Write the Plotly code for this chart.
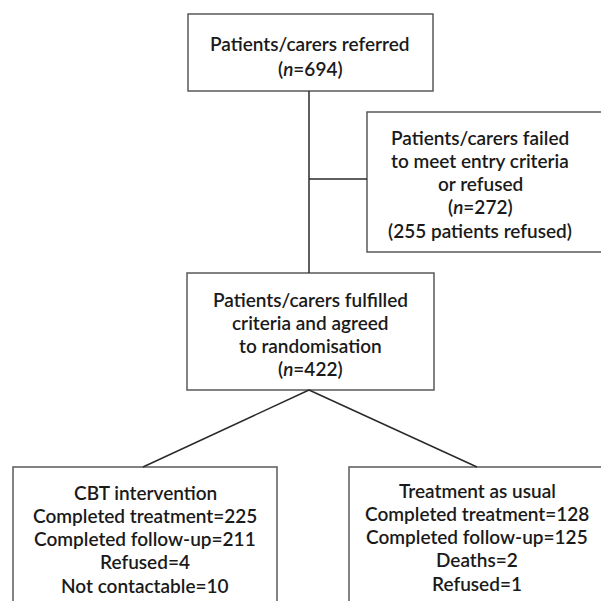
import plotly.graph_objects as go

# Flowchart content
referred_lines = ["Patients/carers referred", "(<i>n</i>=694)"]
excluded_lines = ["Patients/carers failed", "to meet entry criteria", "or refused",
                  "(<i>n</i>=272)", "(255 patients refused)"]
randomised_lines = ["Patients/carers fulfilled", "criteria and agreed",
                    "to randomisation", "(<i>n</i>=422)"]
cbt_lines = ["CBT intervention", "Completed treatment=225", "Completed follow-up=211",
             "Refused=4", "Not contactable=10"]
tau_lines = ["Treatment as usual", "Completed treatment=128", "Completed follow-up=125",
             "Deaths=2", "Refused=1"]

W = H = 601
FONT = "Lato, 'Open Sans', sans-serif"
TXT = "#1a1a1a"
BOX = "#5a5a5a"
LINE = "#2a2a2a"

# box geometry: (x0, y0, x1, y1, lines, text centre x, first line y, line spacing)
boxes = [
    (188, 14, 433, 91, referred_lines, 310, 43, 25),
    (367, 112, 620, 252, excluded_lines, 480, 137, 23.3),
    (187, 273, 434, 390, randomised_lines, 310, 299, 23.2),
    (13, 467, 277, 625, cbt_lines, 145, 492, 23.3),
    (349, 467, 620, 625, tau_lines, 477, 490, 23.3),
]

fig = go.Figure()
shapes = []
annotations = []
for x0, y0, x1, y1, lines, cx, ystart, dy in boxes:
    shapes.append(dict(type="rect", x0=x0, y0=y0, x1=x1, y1=y1,
                       line=dict(color=BOX, width=1.5), fillcolor="rgba(0,0,0,0)"))
    for i, t in enumerate(lines):
        annotations.append(dict(x=cx, y=ystart + i * dy, text=t, showarrow=False,
                                xanchor="center", yanchor="middle",
                                font=dict(family=FONT, size=19, color=TXT, weight=600)))

connectors = [
    (309, 91, 309, 273),
    (309, 179, 367, 179),
    (309, 390, 143, 467),
    (309, 390, 477, 467),
]
for x0, y0, x1, y1 in connectors:
    shapes.append(dict(type="line", x0=x0, y0=y0, x1=x1, y1=y1,
                       line=dict(color=LINE, width=1.5)))

fig.update_layout(
    width=W, height=H, margin=dict(l=0, r=0, t=0, b=0),
    paper_bgcolor="white", plot_bgcolor="white",
    xaxis=dict(range=[0, W], visible=False, fixedrange=True),
    yaxis=dict(range=[H, 0], visible=False, fixedrange=True),
    shapes=shapes, annotations=annotations, showlegend=False,
)
fig.write_html("out.html", config={"displayModeBar": False},
               post_script="document.body.style.margin='0';document.body.style.overflow='hidden';")
